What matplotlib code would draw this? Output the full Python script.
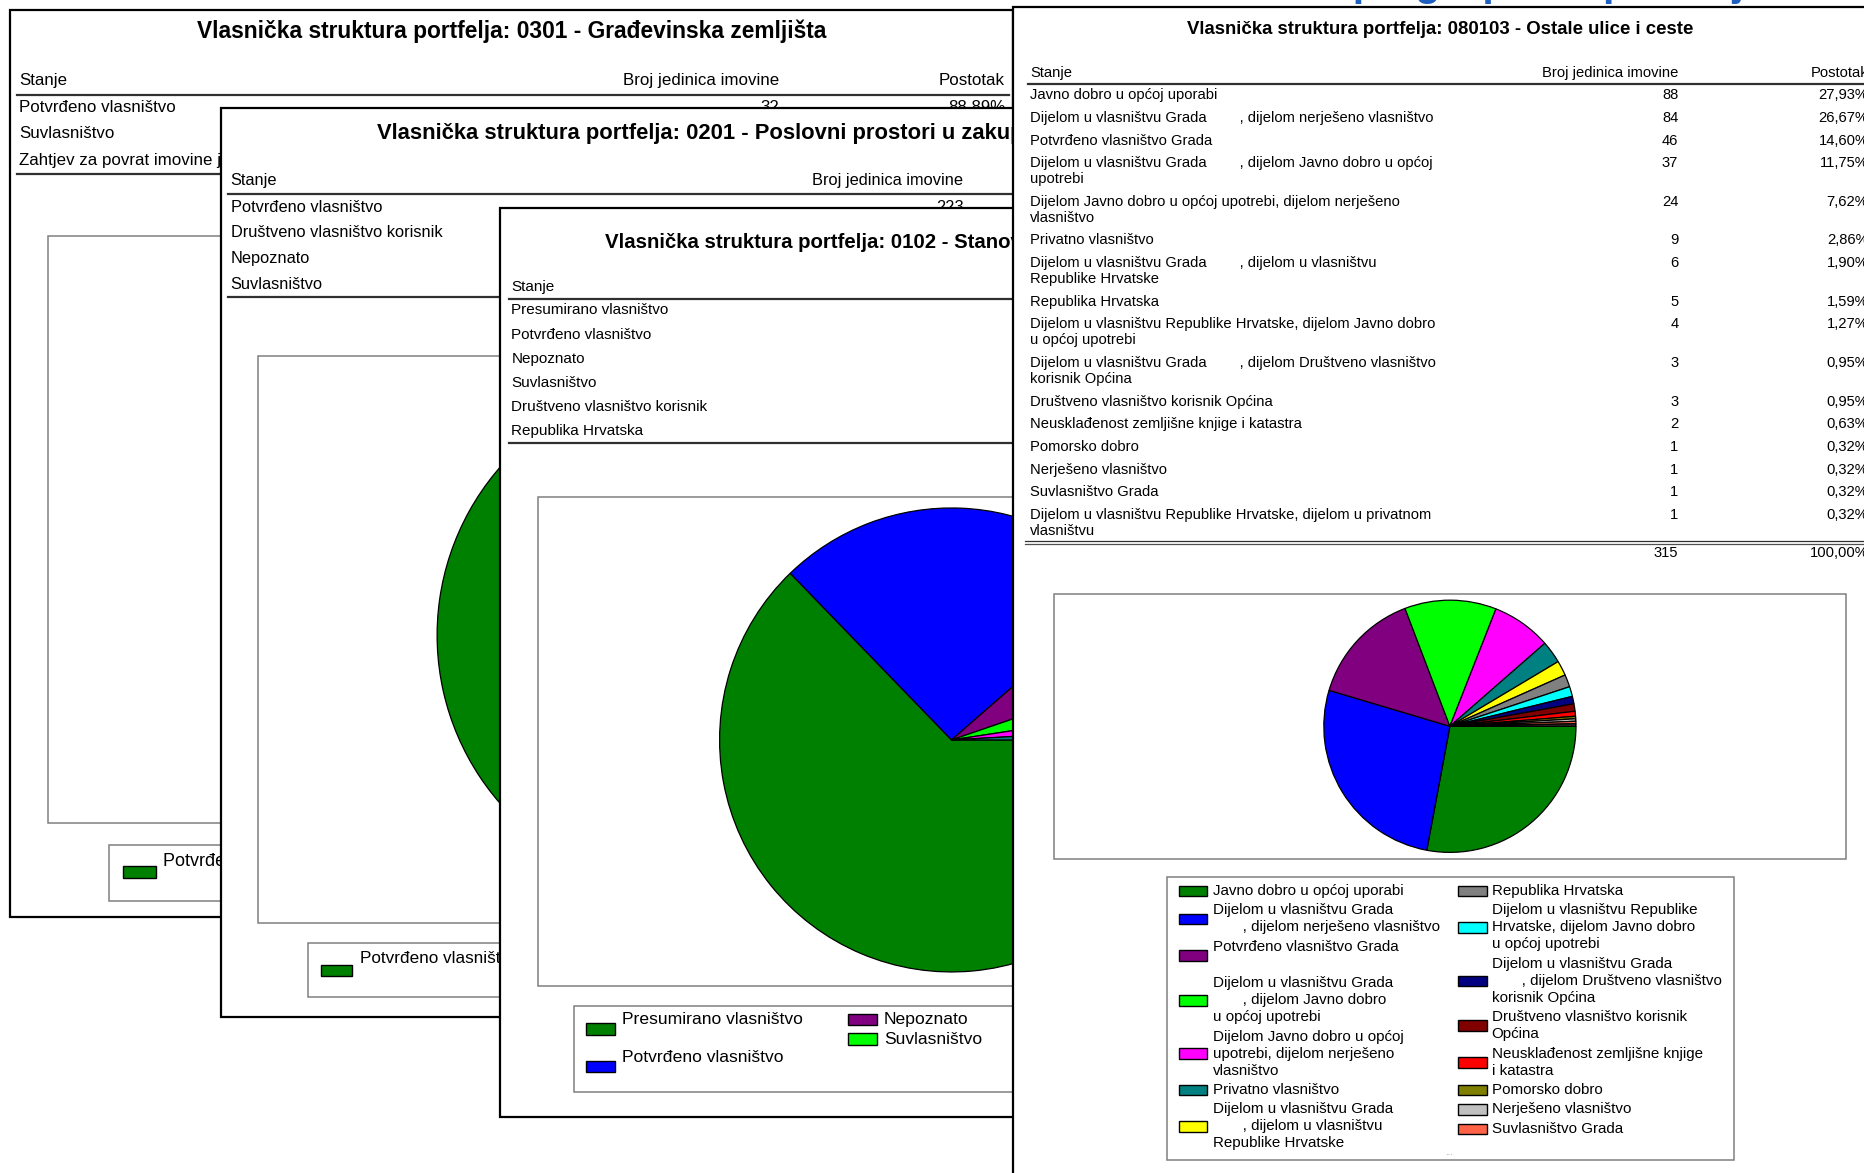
import matplotlib
matplotlib.use("Agg")
import matplotlib.pyplot as plt
from matplotlib.patches import Rectangle

plt.rcParams["font.family"] = ["Liberation Sans", "DejaVu Sans"]

# ---------------------------------------------------------------------------
# Data read from the four stacked report pages
# ---------------------------------------------------------------------------

REPORT_COLORS = [
    "#008000", "#0000FF", "#800080", "#00FF00", "#FF00FF", "#008080",
    "#FFFF00", "#808080", "#00FFFF", "#000080", "#800000", "#FF0000",
    "#808000", "#C0C0C0", "#FF6347", "#303030",
]

HEADER = ["Stanje", "Broj jedinica imovine", "Postotak"]

P1_TITLE = "Vlasnička struktura portfelja: 0301 - Građevinska zemljišta"
P1_STATES = ["Potvrđeno vlasništvo", "Suvlasništvo", "Zahtjev za povrat imovine jedinici"]
P1_COUNTS = [32, 3, 1]
P1_SHARES = ["88,89%", "8,33%", "2,78%"]

P2_TITLE = "Vlasnička struktura portfelja: 0201 - Poslovni prostori u zakupu"
P2_STATES = ["Potvrđeno vlasništvo", "Društveno vlasništvo korisnik", "Nepoznato", "Suvlasništvo"]
P2_COUNTS = [223, 9, 5, 3]
P2_SHARES = ["92,92%", "3,75%", "2,08%", "1,25%"]

P3_TITLE = "Vlasnička struktura portfelja: 0102 - Stanovi"
P3_STATES = ["Presumirano vlasništvo", "Potvrđeno vlasništvo", "Nepoznato", "Suvlasništvo",
             "Društveno vlasništvo korisnik", "Republika Hrvatska"]
P3_COUNTS = [418, 172, 41, 19, 10, 6]
P3_SHARES = ["62,76%", "25,83%", "6,16%", "2,85%", "1,50%", "0,90%"]

P4_TITLE = "Vlasnička struktura portfelja: 080103 - Ostale ulice i ceste"
P4_STATES = [
    "Javno dobro u općoj uporabi",
    "Dijelom u vlasništvu Grada        , dijelom nerješeno vlasništvo",
    "Potvrđeno vlasništvo Grada",
    "Dijelom u vlasništvu Grada        , dijelom Javno dobro u općoj\nupotrebi",
    "Dijelom Javno dobro u općoj upotrebi, dijelom nerješeno\nvlasništvo",
    "Privatno vlasništvo",
    "Dijelom u vlasništvu Grada        , dijelom u vlasništvu\nRepublike Hrvatske",
    "Republika Hrvatska",
    "Dijelom u vlasništvu Republike Hrvatske, dijelom Javno dobro\nu općoj upotrebi",
    "Dijelom u vlasništvu Grada        , dijelom Društveno vlasništvo\nkorisnik Općina",
    "Društveno vlasništvo korisnik Općina",
    "Neusklađenost zemljišne knjige i katastra",
    "Pomorsko dobro",
    "Nerješeno vlasništvo",
    "Suvlasništvo Grada",
    "Dijelom u vlasništvu Republike Hrvatske, dijelom u privatnom\nvlasništvu",
]
P4_COUNTS = [88, 84, 46, 37, 24, 9, 6, 5, 4, 3, 3, 2, 1, 1, 1, 1]
P4_SHARES = ["27,93%", "26,67%", "14,60%", "11,75%", "7,62%", "2,86%", "1,90%", "1,59%",
             "1,27%", "0,95%", "0,95%", "0,63%", "0,32%", "0,32%", "0,32%", "0,32%"]
P4_TOTAL = ["315", "100,00%"]
P4_LEGEND_LEFT = [
    "Javno dobro u općoj uporabi",
    "Dijelom u vlasništvu Grada\n       , dijelom nerješeno vlasništvo",
    "Potvrđeno vlasništvo Grada\n ",
    "Dijelom u vlasništvu Grada\n       , dijelom Javno dobro\nu općoj upotrebi",
    "Dijelom Javno dobro u općoj\nupotrebi, dijelom nerješeno\nvlasništvo",
    "Privatno vlasništvo",
    "Dijelom u vlasništvu Grada\n       , dijelom u vlasništvu\nRepublike Hrvatske",
]
P4_LEGEND_RIGHT = [
    "Republika Hrvatska",
    "Dijelom u vlasništvu Republike\nHrvatske, dijelom Javno dobro\nu općoj upotrebi",
    "Dijelom u vlasništvu Grada\n       , dijelom Društveno vlasništvo\nkorisnik Općina",
    "Društveno vlasništvo korisnik\nOpćina",
    "Neusklađenost zemljišne knjige\ni katastra",
    "Pomorsko dobro",
    "Nerješeno vlasništvo",
    "Suvlasništvo Grada",
]

BANNER_TEXT = "Prikaz vlasništva po grupama portfelja"

# ---------------------------------------------------------------------------
# Canvas in screenshot units (y grows downwards)
# ---------------------------------------------------------------------------

W, H = 1568, 986
fig = plt.figure(figsize=(18.65, 11.73), dpi=100)
ax = fig.add_axes([0, 0, 1, 1])


def draw_page(x0, y0, x1, y1, z):
    ax.add_patch(Rectangle((x0, y0), x1 - x0, y1 - y0, facecolor="white",
                           edgecolor="black", linewidth=1.6, zorder=z))


def draw_box(x0, y0, x1, y1, z):
    ax.add_patch(Rectangle((x0, y0), x1 - x0, y1 - y0, fill=False,
                           edgecolor="#808080", linewidth=1.1, zorder=z))


def draw_rule(x0, x1, y, z, double=False):
    if double:
        ax.plot([x0, x1], [y - 1.2, y - 1.2], color="#303030", lw=0.9, zorder=z)
        ax.plot([x0, x1], [y + 1.2, y + 1.2], color="#505050", lw=0.9, zorder=z)
    else:
        ax.plot([x0, x1], [y, y], color="#303030", lw=1.6, zorder=z)


def put(x, y, s, size, z, ha="left", weight="normal", color="black"):
    ax.text(x, y, s, fontsize=size, ha=ha, va="center", fontweight=weight,
            color=color, zorder=z)


def draw_table(cols, y_head, y_first, states, counts, shares, row_step, line_step,
               size, z, rule_x):
    x_label, x_count, x_share = cols
    put(x_label, y_head, HEADER[0], size, z)
    put(x_count, y_head, HEADER[1], size, z, ha="right")
    put(x_share, y_head, HEADER[2], size, z, ha="right")
    draw_rule(rule_x[0], rule_x[1], y_head + (y_first - y_head) * 0.52, z)
    y = y_first
    for state, count, share in zip(states, counts, shares):
        lines = state.split("\n")
        for i, line in enumerate(lines):
            put(x_label, y + i * line_step, line, size, z)
        put(x_count, y, str(count), size, z, ha="right")
        put(x_share, y, share, size, z, ha="right")
        y += row_step + line_step * (len(lines) - 1)
    return y


def draw_legend(x_patch, x_text, y_first, labels, colors, line_step, entry_step,
                patch_w, patch_h, size, z):
    y = y_first
    for label, color in zip(labels, colors):
        lines = label.split("\n")
        yc = y + line_step * (len(lines) - 1) / 2
        ax.add_patch(Rectangle((x_patch, yc - patch_h / 2), patch_w, patch_h,
                               facecolor=color, edgecolor="black", linewidth=1.0, zorder=z))
        for i, line in enumerate(lines):
            put(x_text, y + i * line_step, line, size, z)
        y += line_step * (len(lines) - 1) + entry_step


def draw_pie(values, center, radius, z):
    ax.pie(values, colors=REPORT_COLORS[:len(values)], center=center, radius=radius,
           startangle=0, counterclock=True,
           wedgeprops=dict(edgecolor="black", linewidth=0.9, zorder=z))


# blue heading of the slide, almost entirely cut off at the top edge
ax.text(1165, -4, BANNER_TEXT, fontsize=30, fontweight="bold", color="#1F5FBF",
        ha="center", va="baseline", zorder=1)

# ---- page 1: 0301 ---------------------------------------------------------
z = 10
draw_page(8, 8, 852, 771, z)
put(166, 26, P1_TITLE, 16.4, z + 1, weight="bold")
draw_table((16, 655, 845), 68, 90, P1_STATES, P1_COUNTS, P1_SHARES, 22.5, 18, 12.2,
           z + 1, (14, 848))
draw_rule(14, 848, 146, z + 1)
draw_box(40, 198, 820, 692, z + 1)
draw_pie(P1_COUNTS, (430, 445), 230, z + 2)
draw_box(92, 710, 600, 757, z + 1)
draw_legend(103, 137, 724, ["Potvrđeno vlasništvo\n "], REPORT_COLORS[:1], 18, 20,
            28, 10, 13, z + 2)

# ---- page 2: 0201 ---------------------------------------------------------
z = 20
draw_page(186, 91, 1030, 855, z)
put(317, 112, P2_TITLE, 15.8, z + 1, weight="bold")
draw_table((194, 810, 1000), 152, 174, P2_STATES, P2_COUNTS, P2_SHARES, 21.7, 17, 11.8,
           z + 1, (192, 1026))
draw_rule(192, 1026, 250, z + 1)
draw_box(217, 299, 1000, 776, z + 1)
draw_pie(P2_COUNTS, (582.5, 534), 215, z + 2)
draw_box(259, 793, 800, 838, z + 1)
draw_legend(270, 303, 806, ["Potvrđeno vlasništvo\n "], REPORT_COLORS[:1], 19, 20,
            26, 9.5, 12.3, z + 2)

# ---- page 3: 0102 ---------------------------------------------------------
z = 30
draw_page(420, 175, 1264, 939, z)
put(509, 204, P3_TITLE, 14.7, z + 1, weight="bold")
draw_table((430, 1044, 1234), 241, 261, P3_STATES, P3_COUNTS, P3_SHARES, 20.2, 16, 11.0,
           z + 1, (428, 1260))
draw_rule(428, 1260, 372, z + 1)
draw_box(452, 418, 1234, 829, z + 1)
draw_pie(P3_COUNTS, (800, 622), 195, z + 2)
draw_box(483, 846, 1200, 918, z + 1)
draw_legend(493, 523, 857, ["Presumirano vlasništvo\n ", "Potvrđeno vlasništvo\n "],
            REPORT_COLORS[:2], 16, 15.5, 24, 10, 12.6, z + 2)
draw_legend(713, 743, 857, ["Nepoznato", "Suvlasništvo"], REPORT_COLORS[2:4], 16, 16.5,
            24, 10, 12.6, z + 2)

# ---- page 4: 080103 -------------------------------------------------------
z = 40
draw_page(852, 6, 1620, 1010, z)
put(1211, 25, P4_TITLE, 13.4, z + 1, ha="center", weight="bold")
draw_table((866, 1411, 1571), 61, 80, P4_STATES, P4_COUNTS, P4_SHARES, 19.1, 13.3,
           10.6, z + 1, (864, 1600))
draw_rule(862, 1600, 456, z + 1, double=True)
put(1411, 465, P4_TOTAL[0], 10.6, z + 1, ha="right")
put(1571, 465, P4_TOTAL[1], 10.6, z + 1, ha="right")
draw_box(886, 499, 1552, 722, z + 1)
draw_pie(P4_COUNTS, (1219, 610.5), 106, z + 2)
draw_box(981, 737, 1458, 975, z + 1)
draw_legend(991, 1020, 749, P4_LEGEND_LEFT, REPORT_COLORS[:7], 14.3, 16.3, 24, 9,
            10.9, z + 2)
draw_legend(1226, 1254, 749, P4_LEGEND_RIGHT, REPORT_COLORS[7:15], 14.3, 16.3, 24, 9,
            10.9, z + 2)
put(1218, 968, "...", 7, z + 2, ha="center", color="#a0a0a0")

ax.set_xlim(0, W)
ax.set_ylim(H, 0)
ax.set_aspect("auto")
ax.set_position([0, 0, 1, 1])
ax.axis("off")

fig.savefig("out.png", dpi=100, facecolor="white")
plt.close(fig)
